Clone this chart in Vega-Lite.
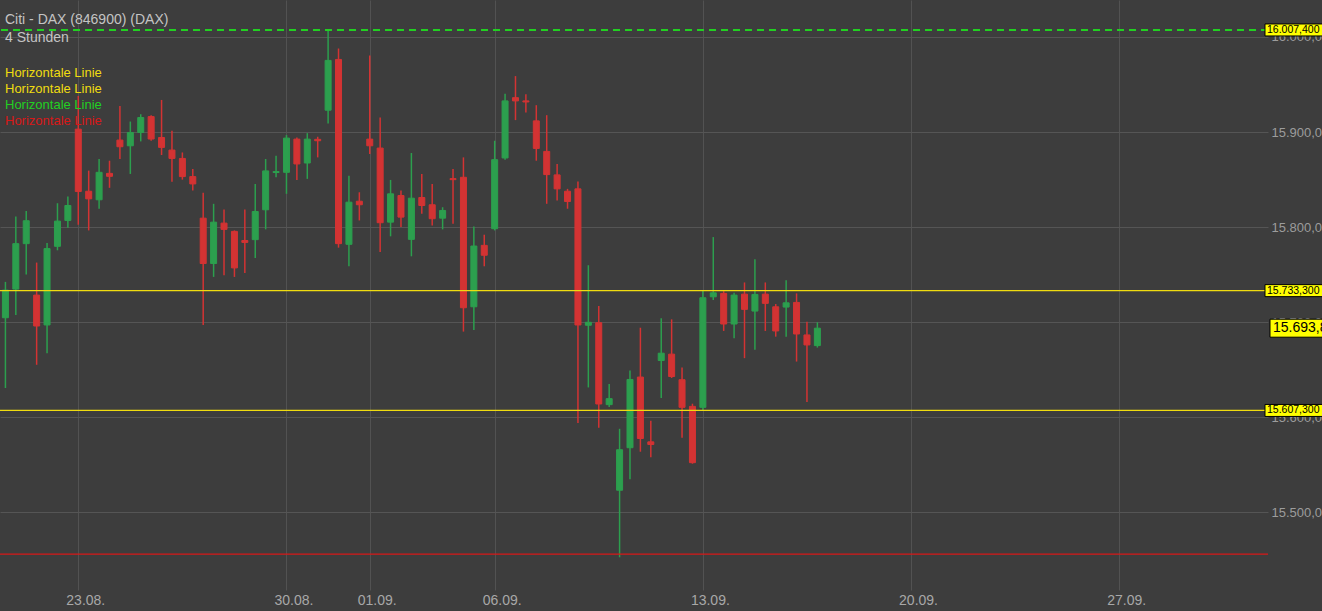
{
  "$schema": "https://vega.github.io/schema/vega-lite/v6.json",
  "width": 1268,
  "height": 590,
  "autosize": {"type": "none"},
  "padding": {"left": 0, "top": 0, "right": 54, "bottom": 21},
  "background": "#3d3d3d",
  "title": {
    "text": "Citi - DAX (846900) (DAX)",
    "subtitle": "4 Stunden",
    "anchor": "start",
    "frame": "group",
    "orient": "top",
    "offset": -45,
    "dx": 5,
    "font": "Liberation Sans",
    "subtitleFont": "Liberation Sans",
    "fontSize": 14,
    "subtitleFontSize": 14,
    "fontWeight": "normal",
    "color": "#c4c4c4",
    "subtitleColor": "#c4c4c4",
    "subtitlePadding": 4
  },
  "config": {
    "font": "Liberation Sans",
    "view": {"stroke": null, "fill": "#3d3d3d"},
    "axis": {"gridColor": "#555555", "gridWidth": 1, "ticks": false, "domain": false, "labelFont": "Liberation Sans"}
  },
  "datasets": {
    "candles": [
      {"t": "2021-08-19 12:00", "i": -7, "open": 15704.8, "high": 15742.5, "low": 15630.9, "close": 15733.8},
      {"t": "2021-08-19 16:00", "i": -6, "open": 15734.9, "high": 15811.3, "low": 15707.6, "close": 15782.7},
      {"t": "2021-08-19 20:00", "i": -5, "open": 15782.7, "high": 15816.9, "low": 15750.3, "close": 15806.8},
      {"t": "2021-08-20 08:00", "i": -4, "open": 15728.6, "high": 15762.8, "low": 15655.3, "close": 15696.1},
      {"t": "2021-08-20 12:00", "i": -3, "open": 15697.2, "high": 15783.3, "low": 15667.5, "close": 15777.5},
      {"t": "2021-08-20 16:00", "i": -2, "open": 15779.9, "high": 15825.2, "low": 15775.7, "close": 15806.4},
      {"t": "2021-08-20 20:00", "i": -1, "open": 15807.1, "high": 15832.2, "low": 15799.5, "close": 15822.8},
      {"t": "2021-08-23 08:00", "i": 0, "open": 15903.1, "high": 15938.0, "low": 15802.6, "close": 15837.5},
      {"t": "2021-08-23 12:00", "i": 1, "open": 15837.8, "high": 15859.5, "low": 15796.6, "close": 15829.8},
      {"t": "2021-08-23 16:00", "i": 2, "open": 15828.8, "high": 15871.7, "low": 15819.4, "close": 15857.7},
      {"t": "2021-08-23 20:00", "i": 3, "open": 15856.6, "high": 15869.9, "low": 15841.4, "close": 15853.5},
      {"t": "2021-08-24 08:00", "i": 4, "open": 15891.6, "high": 15927.5, "low": 15871.7, "close": 15884.6},
      {"t": "2021-08-24 12:00", "i": 5, "open": 15885.6, "high": 15911.1, "low": 15856.0, "close": 15899.6},
      {"t": "2021-08-24 16:00", "i": 6, "open": 15899.6, "high": 15918.8, "low": 15890.2, "close": 15915.3},
      {"t": "2021-08-24 20:00", "i": 7, "open": 15916.3, "high": 15917.8, "low": 15890.9, "close": 15892.7},
      {"t": "2021-08-25 08:00", "i": 8, "open": 15894.3, "high": 15933.8, "low": 15875.9, "close": 15883.9},
      {"t": "2021-08-25 12:00", "i": 9, "open": 15881.1, "high": 15901.4, "low": 15847.9, "close": 15872.3},
      {"t": "2021-08-25 16:00", "i": 10, "open": 15872.3, "high": 15878.6, "low": 15850.0, "close": 15853.2},
      {"t": "2021-08-25 20:00", "i": 11, "open": 15853.2, "high": 15861.2, "low": 15838.5, "close": 15845.5},
      {"t": "2021-08-26 08:00", "i": 12, "open": 15809.5, "high": 15836.1, "low": 15697.2, "close": 15761.8},
      {"t": "2021-08-26 12:00", "i": 13, "open": 15761.8, "high": 15824.6, "low": 15747.7, "close": 15805.3},
      {"t": "2021-08-26 16:00", "i": 14, "open": 15804.3, "high": 15818.6, "low": 15749.5, "close": 15797.7},
      {"t": "2021-08-26 20:00", "i": 15, "open": 15795.6, "high": 15796.6, "low": 15747.7, "close": 15757.2},
      {"t": "2021-08-27 08:00", "i": 16, "open": 15786.0, "high": 15818.6, "low": 15751.9, "close": 15784.0},
      {"t": "2021-08-27 12:00", "i": 17, "open": 15786.9, "high": 15845.5, "low": 15767.6, "close": 15816.5},
      {"t": "2021-08-27 16:00", "i": 18, "open": 15818.3, "high": 15871.7, "low": 15797.7, "close": 15859.2},
      {"t": "2021-08-27 20:00", "i": 19, "open": 15857.5, "high": 15875.2, "low": 15852.5, "close": 15858.5},
      {"t": "2021-08-30 08:00", "i": 20, "open": 15857.7, "high": 15896.9, "low": 15835.1, "close": 15893.7},
      {"t": "2021-08-30 12:00", "i": 21, "open": 15892.6, "high": 15894.3, "low": 15849.7, "close": 15866.5},
      {"t": "2021-08-30 16:00", "i": 22, "open": 15867.5, "high": 15898.9, "low": 15850.8, "close": 15892.6},
      {"t": "2021-08-30 20:00", "i": 23, "open": 15892.4, "high": 15895.1, "low": 15873.4, "close": 15890.9},
      {"t": "2021-08-31 08:00", "i": 24, "open": 15923.0, "high": 16007.4, "low": 15909.0, "close": 15975.4},
      {"t": "2021-08-31 12:00", "i": 25, "open": 15976.4, "high": 15987.9, "low": 15778.5, "close": 15782.7},
      {"t": "2021-08-31 16:00", "i": 26, "open": 15782.0, "high": 15854.2, "low": 15758.9, "close": 15826.3},
      {"t": "2021-08-31 20:00", "i": 27, "open": 15827.3, "high": 15836.7, "low": 15807.1, "close": 15823.6},
      {"t": "2021-09-01 08:00", "i": 28, "open": 15892.6, "high": 15980.6, "low": 15877.0, "close": 15885.6},
      {"t": "2021-09-01 12:00", "i": 29, "open": 15883.2, "high": 15915.3, "low": 15773.9, "close": 15804.7},
      {"t": "2021-09-01 16:00", "i": 30, "open": 15805.3, "high": 15849.7, "low": 15790.4, "close": 15835.1},
      {"t": "2021-09-01 20:00", "i": 31, "open": 15833.3, "high": 15838.5, "low": 15800.1, "close": 15810.6},
      {"t": "2021-09-02 08:00", "i": 32, "open": 15787.2, "high": 15878.0, "low": 15769.4, "close": 15830.5},
      {"t": "2021-09-02 12:00", "i": 33, "open": 15831.2, "high": 15856.0, "low": 15814.1, "close": 15822.8},
      {"t": "2021-09-02 16:00", "i": 34, "open": 15823.6, "high": 15845.5, "low": 15801.9, "close": 15808.9},
      {"t": "2021-09-02 20:00", "i": 35, "open": 15809.5, "high": 15821.0, "low": 15797.7, "close": 15817.6},
      {"t": "2021-09-03 08:00", "i": 36, "open": 15851.1, "high": 15861.2, "low": 15803.7, "close": 15850.0},
      {"t": "2021-09-03 12:00", "i": 37, "open": 15852.5, "high": 15873.4, "low": 15690.2, "close": 15715.3},
      {"t": "2021-09-03 16:00", "i": 38, "open": 15716.3, "high": 15800.8, "low": 15691.9, "close": 15780.2},
      {"t": "2021-09-03 20:00", "i": 39, "open": 15780.9, "high": 15792.1, "low": 15758.9, "close": 15770.5},
      {"t": "2021-09-06 08:00", "i": 40, "open": 15798.4, "high": 15890.9, "low": 15796.6, "close": 15871.0},
      {"t": "2021-09-06 12:00", "i": 41, "open": 15872.8, "high": 15940.4, "low": 15871.0, "close": 15932.8},
      {"t": "2021-09-06 16:00", "i": 42, "open": 15936.2, "high": 15958.9, "low": 15912.6, "close": 15932.8},
      {"t": "2021-09-06 20:00", "i": 43, "open": 15932.8, "high": 15939.8, "low": 15920.5, "close": 15931.7},
      {"t": "2021-09-07 08:00", "i": 44, "open": 15911.8, "high": 15928.3, "low": 15869.9, "close": 15882.8},
      {"t": "2021-09-07 12:00", "i": 45, "open": 15879.7, "high": 15917.8, "low": 15824.6, "close": 15855.3},
      {"t": "2021-09-07 16:00", "i": 46, "open": 15855.0, "high": 15866.5, "low": 15828.1, "close": 15840.3},
      {"t": "2021-09-07 20:00", "i": 47, "open": 15837.8, "high": 15840.3, "low": 15819.4, "close": 15827.0},
      {"t": "2021-09-08 08:00", "i": 48, "open": 15840.3, "high": 15848.0, "low": 15594.2, "close": 15697.2},
      {"t": "2021-09-08 12:00", "i": 49, "open": 15696.9, "high": 15760.0, "low": 15631.5, "close": 15700.0},
      {"t": "2021-09-08 16:00", "i": 50, "open": 15699.6, "high": 15717.1, "low": 15589.0, "close": 15614.1},
      {"t": "2021-09-08 20:00", "i": 51, "open": 15613.4, "high": 15635.1, "low": 15611.0, "close": 15619.7},
      {"t": "2021-09-09 08:00", "i": 52, "open": 15523.4, "high": 15588.0, "low": 15452.9, "close": 15566.0},
      {"t": "2021-09-09 12:00", "i": 53, "open": 15568.1, "high": 15649.3, "low": 15534.9, "close": 15639.9},
      {"t": "2021-09-09 16:00", "i": 54, "open": 15642.4, "high": 15694.3, "low": 15563.9, "close": 15577.8},
      {"t": "2021-09-09 20:00", "i": 55, "open": 15574.3, "high": 15596.6, "low": 15558.2, "close": 15571.5},
      {"t": "2021-09-10 08:00", "i": 56, "open": 15659.8, "high": 15704.2, "low": 15620.4, "close": 15667.5},
      {"t": "2021-09-10 12:00", "i": 57, "open": 15666.5, "high": 15703.1, "low": 15641.4, "close": 15643.0},
      {"t": "2021-09-10 16:00", "i": 58, "open": 15639.6, "high": 15652.5, "low": 15578.5, "close": 15610.6},
      {"t": "2021-09-10 20:00", "i": 59, "open": 15611.6, "high": 15614.4, "low": 15551.3, "close": 15552.4},
      {"t": "2021-09-13 08:00", "i": 60, "open": 15610.6, "high": 15733.3, "low": 15607.3, "close": 15725.8},
      {"t": "2021-09-13 12:00", "i": 61, "open": 15726.8, "high": 15789.6, "low": 15723.4, "close": 15731.0},
      {"t": "2021-09-13 16:00", "i": 62, "open": 15730.4, "high": 15732.8, "low": 15690.9, "close": 15698.2},
      {"t": "2021-09-13 20:00", "i": 63, "open": 15698.2, "high": 15731.0, "low": 15683.2, "close": 15728.6},
      {"t": "2021-09-14 08:00", "i": 64, "open": 15729.6, "high": 15741.9, "low": 15662.3, "close": 15713.6},
      {"t": "2021-09-14 12:00", "i": 65, "open": 15711.8, "high": 15766.3, "low": 15671.0, "close": 15729.3},
      {"t": "2021-09-14 16:00", "i": 66, "open": 15729.6, "high": 15741.9, "low": 15690.9, "close": 15719.9},
      {"t": "2021-09-14 20:00", "i": 67, "open": 15716.3, "high": 15719.2, "low": 15684.9, "close": 15690.9},
      {"t": "2021-09-15 08:00", "i": 68, "open": 15716.0, "high": 15744.3, "low": 15684.9, "close": 15720.5},
      {"t": "2021-09-15 12:00", "i": 69, "open": 15720.9, "high": 15730.4, "low": 15658.7, "close": 15687.7},
      {"t": "2021-09-15 16:00", "i": 70, "open": 15686.7, "high": 15700.6, "low": 15616.2, "close": 15676.2},
      {"t": "2021-09-15 20:00", "i": 71, "open": 15675.5, "high": 15700.0, "low": 15673.4, "close": 15693.8}
    ],
    "levels": [
      {"name": "L1", "p": 15733.3, "box": "15.733,300"},
      {"name": "L2", "p": 15607.3, "box": "15.607,300"},
      {"name": "L3", "p": 16007.4, "box": "16.007,400"},
      {"name": "L4", "p": 15456.3, "box": null}
    ],
    "last": [
      {"p": 15693.8, "box": "15.693,800"}
    ]
  },
  "layer": [
    {
      "data": {"name": "candles"},
      "mark": {"type": "rule", "strokeWidth": 1.5},
      "encoding": {
        "x": {
          "field": "i", "type": "quantitative",
          "scale": {"domain": [-7.52, 114.29], "nice": false, "zero": false, "padding": 0},
          "axis": {
            "title": null,
            "orient": "bottom",
            "grid": true,
            "values": [0, 20, 28, 40, 60, 80, 100],
            "labelExpr": "datum.value == 0 ? '23.08.' : datum.value == 20 ? '30.08.' : datum.value == 28 ? '01.09.' : datum.value == 40 ? '06.09.' : datum.value == 60 ? '13.09.' : datum.value == 80 ? '20.09.' : '27.09.'",
            "labelFontSize": 14,
            "labelColor": "#a8a8a8",
            "labelPadding": 3,
            "labelOffset": 7,
            "labelFlush": false,
            "labelOverlap": false,
            "gridColor": "#525252"
          }
        },
        "y": {
          "field": "low", "type": "quantitative",
          "scale": {"domain": [15418.5, 16038.9], "nice": false, "zero": false, "padding": 0},
          "axis": {
            "title": null,
            "orient": "right",
            "grid": true,
            "values": [15500, 15600, 15700, 15800, 15900, 16000],
            "labelExpr": "replace(replace(replace(format(datum.value, ',.3f'), ',', '#'), '.', ','), '#', '.')",
            "labelFontSize": 13,
            "labelColor": "#9c9c9c",
            "labelPadding": 3,
            "labelFlush": false,
            "labelOverlap": false,
            "gridColor": "#555555"
          }
        },
        "y2": {"field": "high"},
        "color": {"condition": {"test": "datum.close >= datum.open", "value": "#2c9f4e"}, "value": "#d33333"}
      }
    },
    {
      "data": {"name": "candles"},
      "mark": {"type": "bar", "width": 6, "strokeWidth": 1},
      "encoding": {
        "x": {"field": "i", "type": "quantitative", "scale": {"domain": [-7.52, 114.29], "nice": false, "zero": false, "padding": 0}, "axis": {"title": null}},
        "y": {"field": "open", "type": "quantitative", "scale": {"domain": [15418.5, 16038.9], "nice": false, "zero": false, "padding": 0}, "axis": {"title": null}},
        "y2": {"field": "close"},
        "fill": {"condition": {"test": "datum.close >= datum.open", "value": "#2c9f4e"}, "value": "#d33333"},
        "stroke": {"condition": {"test": "datum.close >= datum.open", "value": "#2c9f4e"}, "value": "#d33333"}
      }
    },
    {
      "data": {"name": "levels"},
      "mark": {"type": "rule"},
      "encoding": {
        "y": {"field": "p", "type": "quantitative", "scale": {"domain": [15418.5, 16038.9], "nice": false, "zero": false, "padding": 0}, "axis": {"title": null}},
        "color": {
          "field": "name", "type": "nominal",
          "scale": {"domain": ["L1", "L2", "L3", "L4"], "range": ["#f0dc10", "#f0dc10", "#22d022", "#d81818"]},
          "legend": {
            "orient": "none",
            "legendX": -8,
            "legendY": 66,
            "title": null,
            "labelExpr": "'Horizontale Linie'",
            "labelFont": "Liberation Sans",
            "labelFontSize": 13,
            "labelOffset": 0,
            "symbolSize": 0,
            "symbolOpacity": 0,
            "symbolStrokeWidth": 0,
            "rowPadding": 2,
            "padding": 0,
            "encode": {"labels": {"update": {"fill": {"scale": "color", "field": "value"}}}}
          }
        },
        "strokeDash": {"condition": {"test": "datum.name === 'L3'", "value": [7, 5]}, "value": [1, 0]},
        "strokeWidth": {"condition": {"test": "datum.name === 'L3'", "value": 2}, "value": 1.3}
      }
    },
    {
      "data": {"name": "levels"},
      "transform": [{"filter": "datum.box != null"}],
      "mark": {"type": "tick", "orient": "horizontal", "size": 72, "thickness": 12, "fill": "#ffff00", "stroke": "#000000", "strokeWidth": 1, "opacity": 1, "clip": false},
      "encoding": {
        "x": {"datum": 117.46, "type": "quantitative", "scale": {"domain": [-7.52, 114.29], "nice": false, "zero": false, "padding": 0}, "axis": {"title": null}},
        "y": {"field": "p", "type": "quantitative", "scale": {"domain": [15418.5, 16038.9], "nice": false, "zero": false, "padding": 0}, "axis": {"title": null}}
      }
    },
    {
      "data": {"name": "levels"},
      "transform": [{"filter": "datum.box != null"}],
      "mark": {"type": "text", "align": "left", "baseline": "middle", "fontSize": 10.5, "color": "#000000", "clip": false},
      "encoding": {
        "x": {"datum": 114.19, "type": "quantitative", "scale": {"domain": [-7.52, 114.29], "nice": false, "zero": false, "padding": 0}, "axis": {"title": null}},
        "y": {"field": "p", "type": "quantitative", "scale": {"domain": [15418.5, 16038.9], "nice": false, "zero": false, "padding": 0}, "axis": {"title": null}},
        "text": {"field": "box"}
      }
    },
    {
      "data": {"name": "last"},
      "mark": {"type": "tick", "orient": "horizontal", "size": 72, "thickness": 18, "fill": "#ffff00", "stroke": "#000000", "strokeWidth": 1, "opacity": 1, "clip": false},
      "encoding": {
        "x": {"datum": 117.94, "type": "quantitative", "scale": {"domain": [-7.52, 114.29], "nice": false, "zero": false, "padding": 0}, "axis": {"title": null}},
        "y": {"field": "p", "type": "quantitative", "scale": {"domain": [15418.5, 16038.9], "nice": false, "zero": false, "padding": 0}, "axis": {"title": null}}
      }
    },
    {
      "data": {"name": "last"},
      "mark": {"type": "text", "align": "left", "baseline": "middle", "fontSize": 14, "color": "#000000", "clip": false},
      "encoding": {
        "x": {"datum": 114.77, "type": "quantitative", "scale": {"domain": [-7.52, 114.29], "nice": false, "zero": false, "padding": 0}, "axis": {"title": null}},
        "y": {"field": "p", "type": "quantitative", "scale": {"domain": [15418.5, 16038.9], "nice": false, "zero": false, "padding": 0}, "axis": {"title": null}},
        "text": {"field": "box"}
      }
    }
  ]
}
